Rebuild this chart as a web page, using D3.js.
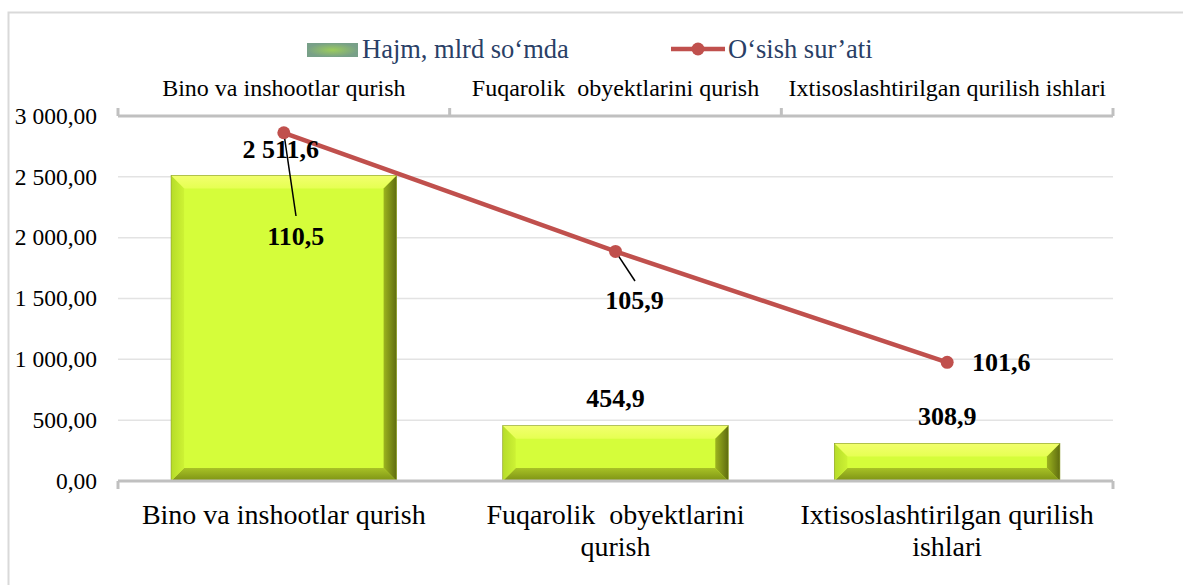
<!DOCTYPE html>
<html>
<head>
<meta charset="utf-8">
<script src="https://cdn.jsdelivr.net/npm/d3@7"></script>
<style>
  body { margin: 0; background: #fff; }
  svg text { font-family: "Liberation Serif", "Times New Roman", serif; }
</style>
</head>
<body>
<div id="chart"></div>
<script>
var categories = ["Bino va inshootlar qurish", "Fuqarolik  obyektlarini qurish", "Ixtisoslashtirilgan qurilish ishlari"];
var volume = [2511.6, 454.9, 308.9];
var growth = [110.5, 105.9, 101.6];
var volumeLabels = ["2 511,6", "454,9", "308,9"];
var growthLabels = ["110,5", "105,9", "101,6"];
var yTicks = [0, 500, 1000, 1500, 2000, 2500, 3000];
var seriesNames = ["Hajm, mlrd so\u2018mda", "O\u2018sish sur\u2019ati"];

var W = 1183, H = 585;
var pLeft = 118, pRight = 1113, pTop = 116, pBottom = 481;

var svg = d3.select("#chart").append("svg")
    .attr("width", W).attr("height", H);

// chart frame
svg.append("rect")
    .attr("x", 8.5).attr("y", 12.5)
    .attr("width", 1200).attr("height", 600)
    .attr("fill", "none").attr("stroke", "#d9d9d9").attr("stroke-width", 2);

var x = d3.scaleBand()
    .domain(categories)
    .range([pLeft, pRight])
    .paddingInner(0.32)
    .paddingOuter(0.16);

var y = d3.scaleLinear().domain([0, 3000]).range([pBottom, pTop]);
var y2 = d3.scaleLinear().domain([97, 111.15]).range([pBottom, pTop]);

var fmt = function(v) {
  var s = d3.format(",.2f")(v);
  return s.replace(/,/g, " ").replace(".", ",");
};

// gridlines
svg.append("g")
  .selectAll("line")
  .data(yTicks.filter(function(d) { return d > 0 && d < 3000; }))
  .enter().append("line")
    .attr("x1", pLeft).attr("x2", pRight)
    .attr("y1", function(d) { return y(d); })
    .attr("y2", function(d) { return y(d); })
    .attr("stroke", "#e3e3e3").attr("stroke-width", 1.5);

// y axis labels
svg.append("g")
  .selectAll("text")
  .data(yTicks)
  .enter().append("text")
    .attr("x", 97)
    .attr("y", function(d) { return y(d); })
    .attr("dy", "0.33em")
    .attr("text-anchor", "end")
    .attr("font-size", 23.5)
    .attr("fill", "#000")
    .text(fmt);

// gradients for bevelled bars
var defs = svg.append("defs");
function grad(id, x1, y1, x2, y2, c1, c2) {
  var g = defs.append("linearGradient").attr("id", id)
      .attr("x1", x1).attr("y1", y1).attr("x2", x2).attr("y2", y2);
  g.append("stop").attr("offset", "0%").attr("stop-color", c1);
  g.append("stop").attr("offset", "100%").attr("stop-color", c2);
}
grad("bvTop", 0, 0, 0, 1, "#f2ff6e", "#e6ff52");
grad("bvBottom", 0, 0, 0, 1, "#a8c226", "#7d9214");
grad("bvLeft", 0, 0, 1, 0, "#b6dc2a", "#cdf234");
grad("bvRight", 0, 0, 1, 0, "#9cb41e", "#5f6c10");
var lg = defs.append("radialGradient").attr("id", "legendGreen");
lg.append("stop").attr("offset", "0%").attr("stop-color", "#9ccc5c");
lg.append("stop").attr("offset", "100%").attr("stop-color", "#78a088");

// bars
var bars = svg.append("g")
  .selectAll("g")
  .data(categories)
  .enter().append("g");

bars.each(function(c, i) {
  var g = d3.select(this);
  var x0 = x(c), x1 = x(c) + x.bandwidth();
  var y0 = y(volume[i]), y1 = y(0);
  var b = Math.min(13, (y1 - y0) / 2.6);
  g.append("rect")
    .attr("x", x0).attr("y", y0)
    .attr("width", x1 - x0).attr("height", y1 - y0)
    .attr("fill", "#d5fd3a");
  function poly(pts, fill) {
    g.append("polygon")
      .attr("points", pts.map(function(p) { return p.join(","); }).join(" "))
      .attr("fill", fill);
  }
  poly([[x0, y0], [x1, y0], [x1 - b, y0 + b], [x0 + b, y0 + b]], "url(#bvTop)");
  poly([[x0, y1], [x1, y1], [x1 - b, y1 - b], [x0 + b, y1 - b]], "url(#bvBottom)");
  poly([[x0, y0], [x0 + b, y0 + b], [x0 + b, y1 - b], [x0, y1]], "url(#bvLeft)");
  poly([[x1, y0], [x1 - b, y0 + b], [x1 - b, y1 - b], [x1, y1]], "url(#bvRight)");
  g.append("rect")
    .attr("x", x0).attr("y", y0)
    .attr("width", x1 - x0).attr("height", y1 - y0)
    .attr("fill", "none").attr("stroke", "#8a9a2a").attr("stroke-width", 0.6);
});

// axes: top (secondary category) and bottom
var bounds = [pLeft].concat(categories.map(function(c) { return x(c) + x.bandwidth() + x.step() * 0.16; }));
svg.append("line")
    .attr("x1", pLeft).attr("x2", pRight)
    .attr("y1", pTop).attr("y2", pTop)
    .attr("stroke", "#c0c0c0").attr("stroke-width", 3);
svg.append("line")
    .attr("x1", pLeft).attr("x2", pRight)
    .attr("y1", pBottom).attr("y2", pBottom)
    .attr("stroke", "#c0c0c0").attr("stroke-width", 3);
svg.append("g").selectAll("line").data(bounds).enter().append("line")
    .attr("x1", function(d) { return d; }).attr("x2", function(d) { return d; })
    .attr("y1", pTop - 8).attr("y2", pTop)
    .attr("stroke", "#c0c0c0").attr("stroke-width", 3);
svg.append("g").selectAll("line").data([bounds[0], bounds[bounds.length - 1]]).enter().append("line")
    .attr("x1", function(d) { return d; }).attr("x2", function(d) { return d; })
    .attr("y1", pBottom).attr("y2", pBottom + 8)
    .attr("stroke", "#c0c0c0").attr("stroke-width", 3);

// top category labels
svg.append("g").selectAll("text").data(categories).enter().append("text")
    .attr("x", function(c) { return x(c) + x.bandwidth() / 2; })
    .attr("y", 96)
    .attr("text-anchor", "middle")
    .attr("font-size", 24)
    .style("white-space", "pre")
    .text(function(c) { return c; });

// bottom category labels (wrapped)
var bottomLabels = svg.append("g").selectAll("text").data(categories).enter().append("text")
    .attr("text-anchor", "middle")
    .attr("font-size", 28)
    .style("white-space", "pre");
bottomLabels.each(function(c) {
  var t = d3.select(this);
  var cx = x(c) + x.bandwidth() / 2;
  var words = c.split(" ");
  var lines = [], cur = "";
  var probe = t.append("tspan");
  words.forEach(function(w) {
    var test = cur === "" ? w : cur + " " + w;
    probe.text(test);
    if (probe.node().getComputedTextLength() > 305 && cur !== "") {
      lines.push(cur);
      cur = w;
    } else {
      cur = test;
    }
  });
  lines.push(cur);
  probe.remove();
  lines.forEach(function(l, k) {
    t.append("tspan").attr("x", cx).attr("y", 524 + k * 32).text(l);
  });
});

// growth line
var cxs = categories.map(function(c) { return x(c) + x.bandwidth() / 2; });
var line = d3.line()
    .x(function(d, i) { return cxs[i]; })
    .y(function(d) { return y2(d); });

svg.append("path")
    .datum(growth)
    .attr("d", line)
    .attr("fill", "none")
    .attr("stroke", "#c0504d")
    .attr("stroke-width", 4.5);

// leader lines for growth labels
var leaderEnds = [[296, 216], [635, 281]];
svg.append("g").selectAll("line").data(leaderEnds).enter().append("line")
    .attr("x1", function(d, i) { return cxs[i]; })
    .attr("y1", function(d, i) { return y2(growth[i]); })
    .attr("x2", function(d) { return d[0]; })
    .attr("y2", function(d) { return d[1]; })
    .attr("stroke", "#000").attr("stroke-width", 1.5);

svg.append("g").selectAll("circle").data(growth).enter().append("circle")
    .attr("cx", function(d, i) { return cxs[i]; })
    .attr("cy", function(d) { return y2(d); })
    .attr("r", 6.5)
    .attr("fill", "#c0504d");

// bar value labels
var volOffsets = [[-3, -17.5], [0, -19], [0, -18.5]];
svg.append("g").selectAll("text").data(volume).enter().append("text")
    .attr("x", function(d, i) { return cxs[i] + volOffsets[i][0]; })
    .attr("y", function(d, i) { return y(d) + volOffsets[i][1]; })
    .attr("text-anchor", "middle")
    .attr("font-size", 26).attr("font-weight", "bold")
    .text(function(d, i) { return volumeLabels[i]; });

// growth value labels
var grOffsets = [[12, 112.5], [19, 58], [54, 9]];
svg.append("g").selectAll("text").data(growth).enter().append("text")
    .attr("x", function(d, i) { return cxs[i] + grOffsets[i][0]; })
    .attr("y", function(d, i) { return y2(d) + grOffsets[i][1]; })
    .attr("text-anchor", "middle")
    .attr("font-size", 26).attr("font-weight", "bold")
    .text(function(d, i) { return growthLabels[i]; });

// legend
var legend = svg.append("g");
legend.append("rect")
    .attr("x", 307).attr("y", 43)
    .attr("width", 51).attr("height", 14)
    .attr("fill", "url(#legendGreen)");
legend.append("text")
    .attr("x", 362).attr("y", 58)
    .attr("font-size", 26.5).attr("fill", "#2a4066")
    .text(seriesNames[0]);
legend.append("line")
    .attr("x1", 671).attr("x2", 725)
    .attr("y1", 49).attr("y2", 49)
    .attr("stroke", "#c0504d").attr("stroke-width", 4.5);
legend.append("circle")
    .attr("cx", 698).attr("cy", 49).attr("r", 6.5)
    .attr("fill", "#c0504d");
legend.append("text")
    .attr("x", 728).attr("y", 58)
    .attr("font-size", 26.5).attr("fill", "#2a4066")
    .text(seriesNames[1]);
</script>
</body>
</html>
